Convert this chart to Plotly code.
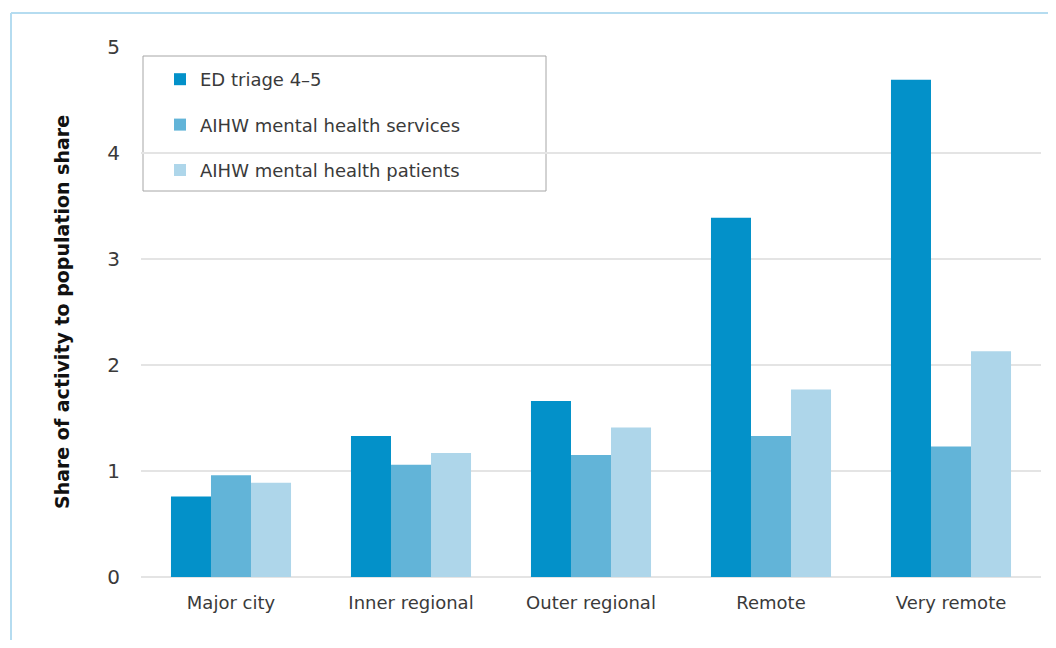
import plotly.graph_objects as go

categories = ["Major city", "Inner regional", "Outer regional", "Remote", "Very remote"]
ed_triage = [0.76, 1.33, 1.66, 3.39, 4.69]
aihw_services = [0.96, 1.06, 1.15, 1.33, 1.23]
aihw_patients = [0.89, 1.17, 1.41, 1.77, 2.13]
series_names = ["ED triage 4\u20135", "AIHW mental health services", "AIHW mental health patients"]
colors = ["#0391C9", "#62B4D8", "#AED6EA"]
y_ticks = [0, 1, 2, 3, 4, 5]

FONT = "DejaVu Sans"
OFF = 8  # page body margin
W, H = 1056 - 2 * OFF, 648 - 2 * OFF
# desired page-pixel plot area: x 141..1041, y 47..577
ml, mr = 141 - OFF, (1056 - OFF) - 1041
mt, mb = 47 - OFF, (648 - OFF) - 577
pw, ph = W - ml - mr, H - mt - mb

def px_x(x):
    return (x - OFF - ml) / pw

def px_y(y):
    return (H - mb - (y - OFF)) / ph

fig = go.Figure()
for i, (name, vals) in enumerate(zip(series_names, [ed_triage, aihw_services, aihw_patients])):
    fig.add_trace(go.Bar(
        x=categories, y=vals, name=name,
        marker=dict(color=colors[i], line=dict(width=0)),
        legendgroup=f"g{i}",
    ))

fig.update_layout(
    width=W, height=H,
    margin=dict(l=ml, r=mr, t=mt, b=mb),
    paper_bgcolor="white", plot_bgcolor="white",
    barmode="group", bargap=0.333, bargroupgap=0,
    font=dict(family=FONT, color="#3a3a3a", size=18),
    legend=dict(
        x=px_x(160), y=px_y(61), xanchor="left", yanchor="top",
        bgcolor="rgba(0,0,0,0)", borderwidth=0,
        font=dict(size=18, color="#3a3a3a", family=FONT),
        traceorder="grouped", tracegroupgap=19,
        itemclick=False,
    ),
    xaxis=dict(
        showgrid=False, showline=False, zeroline=False,
        ticks="", tickfont=dict(size=18, color="#3a3a3a"),
        ticklabelstandoff=13,
    ),
    yaxis=dict(
        range=[0, 5], tickvals=y_ticks, ticktext=[str(v) for v in y_ticks],
        showgrid=True, gridcolor="#E4E4E4", gridwidth=2,
        zeroline=True, zerolinecolor="#E4E4E4", zerolinewidth=2,
        showline=False, ticks="",
        tickfont=dict(size=20, color="#3a3a3a"),
        ticklabelstandoff=20,
        title=dict(text="<b>Share of activity to population share</b>",
                   font=dict(size=19, color="#111111", family=FONT), standoff=32),
    ),
    showlegend=True,
)

# legend border box
fig.add_shape(type="rect", xref="paper", yref="paper",
              x0=px_x(143), x1=px_x(546), y0=px_y(191), y1=px_y(56),
              line=dict(color="#A6A6A6", width=1), fillcolor="white", layer="below")
# outer frame lines (left and top)
fig.add_shape(type="line", xref="paper", yref="paper",
              x0=px_x(11), x1=px_x(11), y0=px_y(13), y1=px_y(660),
              line=dict(color="#B5DCF0", width=2))
fig.add_shape(type="line", xref="paper", yref="paper",
              x0=px_x(11), x1=px_x(1070), y0=px_y(13), y1=px_y(13),
              line=dict(color="#B5DCF0", width=2))

fig.write_html("out.html")
